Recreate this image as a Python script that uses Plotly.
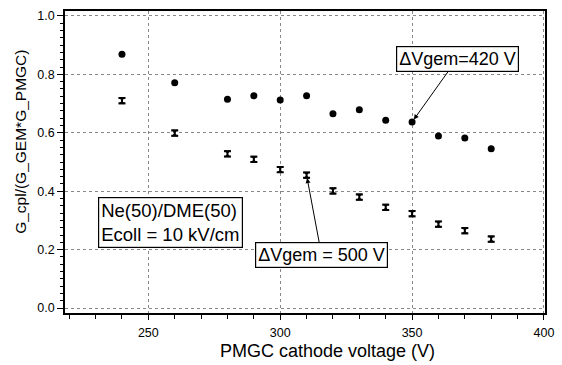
import plotly.graph_objects as go

voltage = [240, 260, 280, 290, 300, 310, 320, 330, 340, 350, 360, 370, 380]
g_420 = [0.869, 0.771, 0.715, 0.727, 0.712, 0.727, 0.665, 0.679, 0.643, 0.637, 0.589, 0.582, 0.545]
g_500 = [0.710, 0.599, 0.528, 0.509, 0.474, 0.455, 0.401, 0.380, 0.345, 0.323, 0.287, 0.265, 0.236]
err_500 = [0.009] * 13

font_family = "Liberation Sans, Arial, Helvetica, sans-serif"

fig = go.Figure()
fig.add_trace(go.Scatter(
    x=voltage, y=g_420, mode="markers",
    marker=dict(symbol="circle", size=7, color="black"),
    showlegend=False))
fig.add_trace(go.Scatter(
    x=voltage, y=g_500, mode="markers",
    marker=dict(symbol="hourglass", size=7, color="black"),
    error_y=dict(type="data", array=err_500, color="black", thickness=2, width=3.5),
    showlegend=False))

box = dict(bgcolor="white", bordercolor="black", borderwidth=1.2, borderpad=2)

fig.add_annotation(x=350, y=g_420[9], ax=45, ay=-63,
                   text="ΔVgem=420 V", showarrow=True, arrowhead=2, arrowsize=1,
                   arrowwidth=1, arrowcolor="black", standoff=3,
                   font=dict(family=font_family, size=18, color="black"), **box)

fig.add_annotation(x=310, y=g_500[5], ax=15, ay=80,
                   text="ΔVgem = 500 V", showarrow=True, arrowhead=2, arrowsize=1,
                   arrowwidth=1, arrowcolor="black", standoff=3,
                   font=dict(family=font_family, size=18, color="black"), **box)

fig.add_annotation(xref="paper", yref="paper", x=0.068, y=0.385, xanchor="left", yanchor="top",
                   text="Ne(50)/DME(50)<br>Ecoll = 10 kV/cm", showarrow=False, align="left",
                   font=dict(family=font_family, size=18.5, color="black"),
                   bgcolor="white", bordercolor="black", borderwidth=1.2, borderpad=2)

# axis titles placed as in the reference (pixel -> paper coords)
W, H = 562, 365
fig.add_annotation(xref="paper", yref="paper",
                   x=(332 - 65) / (554 - 65), y=(313 - 351) / (313 - 11),
                   xanchor="center", yanchor="middle", showarrow=False,
                   text="PMGC cathode voltage (V)",
                   font=dict(family=font_family, size=18, color="black"))
fig.add_annotation(xref="paper", yref="paper",
                   x=(19 - 65) / (554 - 65), y=(313 - 142) / (313 - 11),
                   xanchor="center", yanchor="middle", showarrow=False, textangle=-90,
                   text="G_cpl/(G_GEM*G_PMGC)",
                   font=dict(family=font_family, size=15.5, color="black"))

fig.update_layout(
    width=W, height=H,
    margin=dict(l=65, r=8, t=11, b=52),
    paper_bgcolor="white", plot_bgcolor="white",
    font=dict(family=font_family, size=12.5, color="black"),
    xaxis=dict(range=[218.4, 400.4], tickvals=[250, 300, 350, 400],
               ticks="outside", ticklen=5, tickcolor="black", ticklabelstandoff=2,
               minor=dict(dtick=10, tick0=0, ticks="outside", ticklen=4, tickcolor="black", showgrid=False),
               showgrid=True, gridcolor="#888", griddash="dot", gridwidth=1,
               showline=True, linecolor="black", linewidth=1.5, mirror=True,
               zeroline=False),
    yaxis=dict(range=[-0.017, 1.017], tickvals=[0, 0.2, 0.4, 0.6, 0.8, 1.0], tickformat=".1f",
               ticks="outside", ticklen=6, tickcolor="black",
               minor=dict(dtick=0.025, tick0=0, ticks="outside", ticklen=3, tickcolor="black", showgrid=False),
               showgrid=True, gridcolor="#888", griddash="dot", gridwidth=1,
               showline=True, linecolor="black", linewidth=1.5, mirror=True,
               zeroline=False),
)

fig.write_html("out.html")
